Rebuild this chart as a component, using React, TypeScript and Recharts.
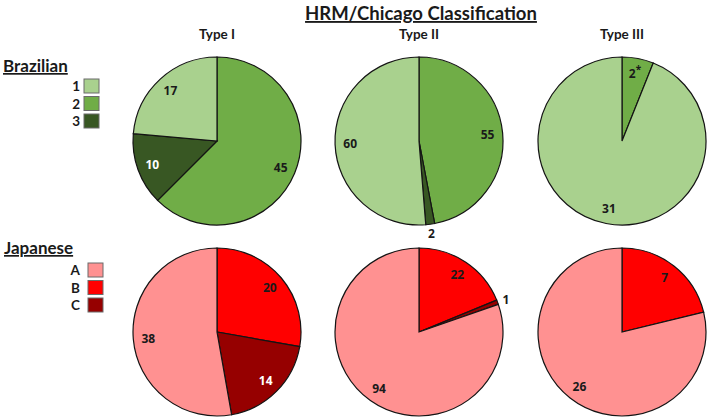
import React from "react";
import { PieChart, Pie, Cell } from "recharts";

const types = ["Type I", "Type II", "Type III"];

const brazilianGroups = ["1", "2", "3"];
const japaneseGroups = ["A", "B", "C"];

// counts per group, listed in group order (1,2,3 / A,B,C)
const brazilianTypeI = [17, 45, 10];
const brazilianTypeII = [60, 55, 2];
const brazilianTypeIII = [31, 2, 0];
const japaneseTypeI = [38, 20, 14];
const japaneseTypeII = [94, 22, 1];
const japaneseTypeIII = [26, 7, 0];

// clockwise from 12 o'clock: second group, third group, then first
const sliceOrder = [1, 2, 0];

const brazilianColors = ["#A9D18E", "#70AD47", "#385723"];
const japaneseColors = ["#FF9191", "#FF0000", "#960000"];

// footnote marks appended to a slice value
const brazilianMarks = [["", "", ""], ["", "", ""], ["", "*", ""]];
const japaneseMarks = [["", "", ""], ["", "", ""], ["", "", ""]];

const W = 709;
const H = 419;
const colX = [217, 419, 622];
const rowY = [141, 332];
const R = 84;
const RAD = Math.PI / 180;

type Slice = { name: string; value: number; color: string; dark: boolean; mark: string };

const buildSlices = (values: number[], groups: string[], colors: string[], marks: string[]): Slice[] =>
  sliceOrder
    .map((g) => ({
      name: groups[g],
      value: values[g],
      color: colors[g],
      dark: g === 2,
      mark: marks[g],
    }))
    .filter((s) => s.value > 0);

const rows = [
  {
    label: "Brazilian",
    groups: brazilianGroups,
    colors: brazilianColors,
    series: [brazilianTypeI, brazilianTypeII, brazilianTypeIII],
    marks: brazilianMarks,
  },
  {
    label: "Japanese",
    groups: japaneseGroups,
    colors: japaneseColors,
    series: [japaneseTypeI, japaneseTypeII, japaneseTypeIII],
    marks: japaneseMarks,
  },
];

// values sit inside the slice; tiny slices get their value just outside the rim
const renderLabel = (props: any) => {
  const { cx, cy, midAngle, outerRadius, percent, payload } = props;
  const small = percent < 0.05;
  const r = small ? outerRadius + 9 : outerRadius * 0.82;
  const x = cx + r * Math.cos(-midAngle * RAD);
  const y = cy + r * Math.sin(-midAngle * RAD);
  const fill = !small && payload.dark ? "#ffffff" : "#1a1a1a";
  return (
    <text
      x={x}
      y={y}
      fill={fill}
      textAnchor="middle"
      dominantBaseline="central"
      fontFamily="'Open Sans', sans-serif"
      fontWeight={700}
      fontSize={12}
    >
      {payload.value}
      {payload.mark && (
        <tspan dy={-4} fontSize={10}>
          {payload.mark}
        </tspan>
      )}
    </text>
  );
};

const headingFont = "Lato, 'Liberation Sans', sans-serif";

export default function App() {
  return (
    <div style={{ position: "absolute", left: 0, top: 0, width: W, height: H, background: "#ffffff" }}>
      <PieChart width={W} height={H} margin={{ top: 0, right: 0, bottom: 0, left: 0 }}>
        {rows.map((row, ri) =>
          row.series.map((values, ti) => {
            const data = buildSlices(values, row.groups, row.colors, row.marks[ti]);
            return (
              <Pie
                key={`${row.label}-${ti}`}
                data={data}
                dataKey="value"
                nameKey="name"
                cx={colX[ti]}
                cy={rowY[ri]}
                outerRadius={R}
                startAngle={90}
                endAngle={-270}
                stroke="#141414"
                strokeWidth={1.2}
                label={renderLabel}
                labelLine={false}
                isAnimationActive={false}
              >
                {data.map((s) => (
                  <Cell key={s.name} fill={s.color} />
                ))}
              </Pie>
            );
          })
        )}
      </PieChart>

      <svg
        width={W}
        height={H}
        style={{ position: "absolute", left: 0, top: 0, pointerEvents: "none" }}
        fontFamily={headingFont}
        fontWeight={700}
        fill="#1a1a1a"
      >
        <text x={421} y={20} fontSize={18.5} textAnchor="middle" style={{ textDecoration: "underline" }}>
          HRM/Chicago Classification
        </text>
        {types.map((t, i) => (
          <text key={t} x={colX[i]} y={39} fontSize={13.5} textAnchor="middle">
            {t}
          </text>
        ))}

        <text x={3} y={72} fontSize={17} style={{ textDecoration: "underline" }}>
          Brazilian
        </text>
        {brazilianGroups.map((g, i) => (
          <g key={g}>
            <text x={80} y={91 + i * 17.5} fontSize={13.5} textAnchor="end">
              {g}
            </text>
            <rect x={84} y={79 + i * 17.5} width={15} height={14} fill={brazilianColors[i]} stroke="#6b6b6b" strokeWidth={1} />
          </g>
        ))}

        <text x={4} y={254} fontSize={17} style={{ textDecoration: "underline" }}>
          Japanese
        </text>
        {japaneseGroups.map((g, i) => (
          <g key={g}>
            <text x={80} y={275 + i * 17.5} fontSize={13.5} textAnchor="end">
              {g}
            </text>
            <rect x={88} y={263 + i * 17.5} width={15} height={14} fill={japaneseColors[i]} stroke="#6b6b6b" strokeWidth={1} />
          </g>
        ))}
      </svg>
    </div>
  );
}
